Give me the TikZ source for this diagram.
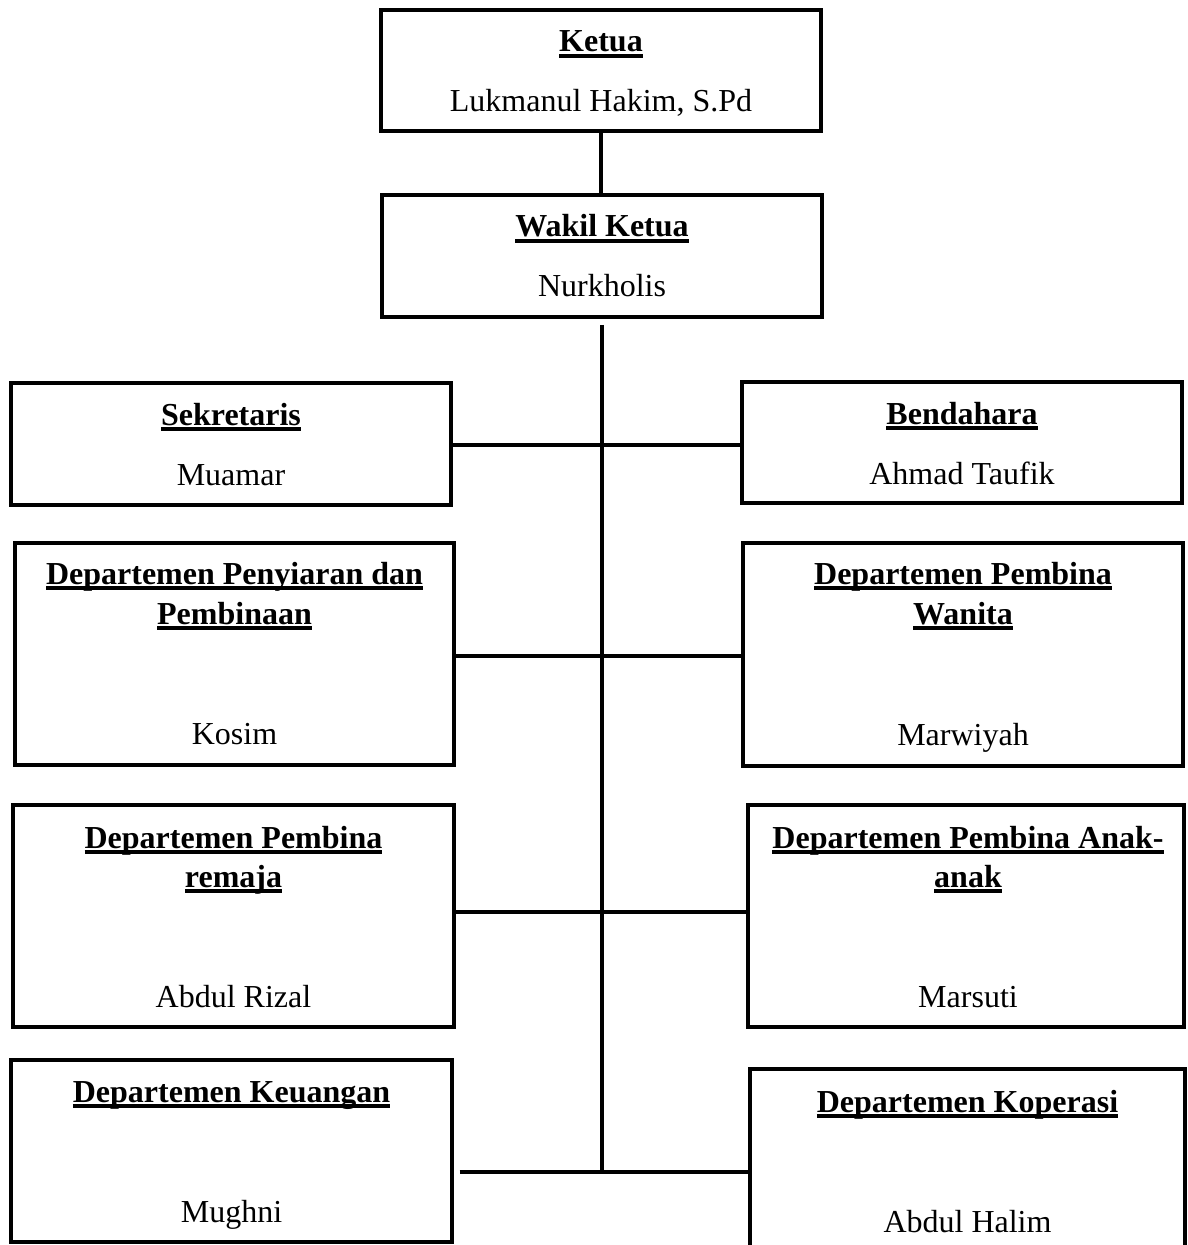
\documentclass[tikz,border=0pt]{standalone}
\usepackage{fontspec}
\setmainfont{Liberation Serif}
\newcommand\ulx[1]{\setbox0=\hbox{#1}\rlap{\rule[-3pt]{\wd0}{2pt}}\box0}
\tikzset{
  orgbox/.style={draw, line width=1.7pt, rectangle, inner sep=0pt},
  ttl/.style={anchor=base, inner sep=0pt, font=\fontsize{16}{20}\selectfont\bfseries},
  nm/.style={anchor=base, inner sep=0pt, font=\fontsize{16}{20}\selectfont},
  conn/.style={line width=1.75pt}
}
\begin{document}
\begin{tikzpicture}[x=0.5pt,y=-0.5pt]
\useasboundingbox (0,0) rectangle (1187,1245);
\clip (0,0) rectangle (1187,1245);
% boxes
\node[orgbox, minimum width=220pt, minimum height=60.5pt] (ketua) at (601,70.5) {};
\node[orgbox, minimum width=220pt, minimum height=61pt] (wakil) at (602,256) {};
\node[orgbox, minimum width=220pt, minimum height=61pt] (sek) at (231,444) {};
\node[orgbox, minimum width=220pt, minimum height=60.5pt] (bend) at (962,442.5) {};
\node[orgbox, minimum width=219.5pt, minimum height=111pt] (peny) at (234.5,654) {};
\node[orgbox, minimum width=220pt, minimum height=111.5pt] (wan) at (963,654.5) {};
\node[orgbox, minimum width=220.5pt, minimum height=111pt] (rem) at (233.5,916) {};
\node[orgbox, minimum width=218pt, minimum height=111pt] (anak) at (966,916) {};
\node[orgbox, minimum width=220.5pt, minimum height=91pt] (keu) at (231.5,1151) {};
\node[orgbox, minimum width=217.5pt, minimum height=115.5pt] (kop) at (967.5,1184.5) {};
% texts
\node[ttl] (ketuaT) at (601,52) {\ulx{Ketua}};
\node[nm] (ketuaN) at (601,112) {Lukmanul Hakim, S.Pd};
\node[ttl] (wakilT) at (602,237) {\ulx{Wakil Ketua}};
\node[nm] (wakilN) at (602,297) {Nurkholis};
\node[ttl] (sekT) at (231,425) {\ulx{Sekretaris}};
\node[nm] (sekN) at (231,485) {Muamar};
\node[ttl] (bendT) at (962,424) {\ulx{Bendahara}};
\node[nm] (bendN) at (962,484) {Ahmad Taufik};
\node[ttl] (penyT1) at (234.5,584) {\ulx{Departemen Penyiaran dan}};
\node[ttl] (penyT2) at (234.5,624) {\ulx{Pembinaan}};
\node[nm] (penyN) at (234.5,744) {Kosim};
\node[ttl] (wanT1) at (963,584) {\ulx{Departemen Pembina}};
\node[ttl] (wanT2) at (963,624) {\ulx{Wanita}};
\node[nm] (wanN) at (963,745) {Marwiyah};
\node[ttl] (remT1) at (233.5,848) {\ulx{Departemen Pembina}};
\node[ttl] (remT2) at (233.5,887) {\ulx{remaja}};
\node[nm] (remN) at (233.5,1007) {Abdul Rizal};
\node[ttl] (anakT1) at (968,848) {\ulx{Departemen Pembina Anak-}};
\node[ttl] (anakT2) at (968,887) {\ulx{anak}};
\node[nm] (anakN) at (968,1007) {Marsuti};
\node[ttl] (keuT) at (231.5,1102) {\ulx{Departemen Keuangan}};
\node[nm] (keuN) at (231.5,1222) {Mughni};
\node[ttl] (kopT) at (967.5,1112) {\ulx{Departemen Koperasi}};
\node[nm] (kopN) at (967.5,1232) {Abdul Halim};
% connectors
\coordinate (vtop) at (602,325);
\coordinate (vbot) at (602,1172);
\draw[conn] (ketua.south) -- (ketua.south |- wakil.north);
\draw[conn] (vtop) -- (vbot);
\draw[conn] ([yshift=-0.5pt]sek.east) -- ([yshift=-0.5pt]sek.east -| bend.west);
\draw[conn] ([yshift=-1pt]peny.east) -- ([yshift=-1pt]peny.east -| wan.west);
\draw[conn] ([yshift=2pt]rem.east) -- ([yshift=2pt]rem.east -| anak.west);
\draw[conn] ([xshift=3pt]keu.east |- vbot) -- (vbot -| kop.west);
\end{tikzpicture}
\end{document}
